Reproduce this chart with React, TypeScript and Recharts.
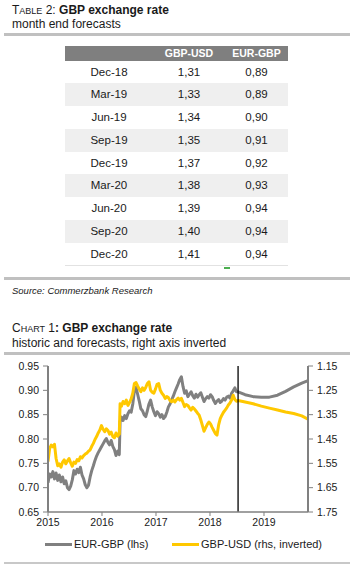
import React from 'react';
import { LineChart, Line, XAxis, YAxis, ReferenceLine } from 'recharts';

const FONT = '"Liberation Sans", Arial, Helvetica, sans-serif';

// ---- Table data ----
const tableDates = ['Dec-18', 'Mar-19', 'Jun-19', 'Sep-19', 'Dec-19', 'Mar-20', 'Jun-20', 'Sep-20', 'Dec-20'];
const tableGbpUsd = ['1,31', '1,33', '1,34', '1,35', '1,37', '1,38', '1,39', '1,40', '1,41'];
const tableEurGbp = ['0,89', '0,89', '0,90', '0,91', '0,92', '0,93', '0,94', '0,94', '0,94'];

// ---- Chart axes ----
const xTicks = [2015, 2016, 2017, 2018, 2019];
const leftTicks = [0.65, 0.7, 0.75, 0.8, 0.85, 0.9, 0.95];
const rightTicks = [1.15, 1.25, 1.35, 1.45, 1.55, 1.65, 1.75];
const forecastStart = 2018.52;

// ---- EUR-GBP (lhs) ----
const eurGbpTimes = [
  2015.0, 2015.03, 2015.06, 2015.09, 2015.12, 2015.15, 2015.18, 2015.21, 2015.24, 2015.27,
  2015.3, 2015.33, 2015.36, 2015.39, 2015.42, 2015.45, 2015.48, 2015.51, 2015.54, 2015.57,
  2015.6, 2015.63, 2015.66, 2015.69, 2015.72, 2015.75, 2015.78, 2015.81, 2015.84, 2015.87,
  2015.9, 2015.93, 2015.96, 2015.99, 2016.02, 2016.05, 2016.08, 2016.11, 2016.14, 2016.17,
  2016.2, 2016.23, 2016.26, 2016.29, 2016.32, 2016.335, 2016.36, 2016.39, 2016.42, 2016.45,
  2016.48, 2016.51, 2016.54, 2016.57, 2016.6, 2016.63, 2016.66, 2016.69, 2016.72, 2016.75,
  2016.78, 2016.81, 2016.84, 2016.87, 2016.9, 2016.93, 2016.96, 2016.99, 2017.02, 2017.05,
  2017.08, 2017.11, 2017.14, 2017.17, 2017.2, 2017.23, 2017.26, 2017.29, 2017.32, 2017.35,
  2017.38, 2017.41, 2017.44, 2017.47, 2017.5, 2017.53, 2017.56, 2017.59, 2017.62, 2017.65,
  2017.68, 2017.71, 2017.74, 2017.77, 2017.8, 2017.83, 2017.86, 2017.89, 2017.92, 2017.95,
  2017.98, 2018.01, 2018.04, 2018.07, 2018.1, 2018.13, 2018.16, 2018.19, 2018.22, 2018.25,
  2018.28, 2018.31, 2018.34, 2018.37, 2018.4, 2018.43, 2018.46, 2018.49, 2018.52,
  2018.65, 2018.8, 2018.95, 2019.1, 2019.25, 2019.4, 2019.55, 2019.7, 2019.815,
];
const eurGbpValues = [
  0.71, 0.728, 0.722, 0.733, 0.718, 0.73, 0.715, 0.726, 0.712, 0.722,
  0.708, 0.714, 0.7, 0.696, 0.703, 0.716, 0.735, 0.728, 0.738, 0.731,
  0.742, 0.726, 0.718, 0.706, 0.7, 0.705, 0.722, 0.735, 0.745, 0.756,
  0.765, 0.772, 0.778, 0.784, 0.79, 0.796, 0.801, 0.793, 0.788, 0.797,
  0.785, 0.778, 0.766, 0.775, 0.768, 0.836, 0.845, 0.838, 0.848, 0.842,
  0.852, 0.858, 0.855, 0.872, 0.9, 0.906, 0.892, 0.878, 0.862, 0.858,
  0.85, 0.846, 0.858, 0.872, 0.88, 0.866, 0.856, 0.848, 0.856, 0.852,
  0.845, 0.85, 0.842, 0.846, 0.855, 0.866, 0.872, 0.88, 0.888, 0.897,
  0.905, 0.913, 0.922, 0.928, 0.908, 0.894, 0.899, 0.887, 0.892, 0.897,
  0.889, 0.884, 0.892, 0.886, 0.891, 0.895, 0.886, 0.877, 0.883, 0.887,
  0.884, 0.891, 0.887, 0.879, 0.873, 0.878, 0.881, 0.875, 0.878, 0.883,
  0.88, 0.886, 0.888, 0.884, 0.894, 0.899, 0.905, 0.897, 0.897,
  0.891, 0.887, 0.886, 0.886, 0.89, 0.898, 0.907, 0.915, 0.92,
];

// ---- GBP-USD (rhs, inverted) ----
const gbpUsdTimes = [
  2015.0, 2015.03, 2015.06, 2015.09, 2015.12, 2015.15, 2015.18, 2015.21, 2015.24, 2015.27,
  2015.3, 2015.33, 2015.36, 2015.39, 2015.42, 2015.45, 2015.48, 2015.51, 2015.54, 2015.57,
  2015.6, 2015.63, 2015.66, 2015.69, 2015.72, 2015.75, 2015.78, 2015.81, 2015.84, 2015.87,
  2015.9, 2015.93, 2015.96, 2015.99, 2016.02, 2016.05, 2016.08, 2016.11, 2016.14, 2016.17,
  2016.2, 2016.23, 2016.26, 2016.29, 2016.32, 2016.335, 2016.36, 2016.39, 2016.42, 2016.45,
  2016.48, 2016.51, 2016.54, 2016.57, 2016.6, 2016.63, 2016.66, 2016.69, 2016.72, 2016.75,
  2016.78, 2016.81, 2016.84, 2016.87, 2016.9, 2016.93, 2016.96, 2016.99, 2017.02, 2017.05,
  2017.08, 2017.11, 2017.14, 2017.17, 2017.2, 2017.23, 2017.26, 2017.29, 2017.32, 2017.35,
  2017.38, 2017.41, 2017.44, 2017.47, 2017.5, 2017.53, 2017.56, 2017.59, 2017.62, 2017.65,
  2017.68, 2017.71, 2017.74, 2017.77, 2017.8, 2017.83, 2017.86, 2017.89, 2017.92, 2017.95,
  2017.98, 2018.01, 2018.04, 2018.07, 2018.1, 2018.13, 2018.16, 2018.19, 2018.22, 2018.25,
  2018.28, 2018.31, 2018.34, 2018.37, 2018.4, 2018.43, 2018.46, 2018.49, 2018.52,
  2018.65, 2018.8, 2018.95, 2019.1, 2019.25, 2019.4, 2019.55, 2019.7, 2019.815,
];
const gbpUsdValues = [
  1.543, 1.49, 1.475, 1.482, 1.472, 1.53, 1.56, 1.552, 1.566, 1.545,
  1.536, 1.552, 1.54, 1.53, 1.548, 1.562, 1.545, 1.55, 1.535, 1.54,
  1.523, 1.528, 1.518, 1.512, 1.508, 1.5, 1.495, 1.48, 1.468, 1.452,
  1.44, 1.425, 1.413, 1.395, 1.41, 1.42, 1.408, 1.415, 1.43, 1.422,
  1.44, 1.445, 1.425, 1.438, 1.43, 1.305, 1.315, 1.296, 1.305, 1.29,
  1.312, 1.3, 1.285, 1.262, 1.222, 1.218, 1.232, 1.245, 1.256, 1.24,
  1.25, 1.238, 1.222, 1.215, 1.25, 1.258, 1.262, 1.245, 1.225, 1.222,
  1.25, 1.262, 1.27, 1.283, 1.276, 1.28, 1.292, 1.297, 1.29, 1.298,
  1.288, 1.282, 1.29, 1.283, 1.3, 1.317, 1.308, 1.312, 1.322, 1.331,
  1.32, 1.326, 1.335, 1.344, 1.352, 1.372, 1.395, 1.418, 1.403, 1.39,
  1.38, 1.388, 1.402, 1.415, 1.428, 1.434, 1.392, 1.366, 1.352, 1.34,
  1.331, 1.322, 1.31, 1.302, 1.29, 1.27, 1.288, 1.295, 1.292,
  1.298, 1.305, 1.315, 1.323, 1.331, 1.339, 1.345, 1.355, 1.369,
];

const eurGbpData = eurGbpTimes.map((t, i) => ({ t, v: eurGbpValues[i] }));
const gbpUsdData = gbpUsdTimes.map((t, i) => ({ t, v: gbpUsdValues[i] }));

const GRAY = '#808080';
const YELLOW = '#FFC800';
const tickStyle = { fontSize: 10.5, fill: '#1a1a1a', fontFamily: FONT };

const Rule = ({ top, h = 3, color = '#c0c0c0' }: { top: number; h?: number; color?: string }) => (
  <div style={{ position: 'absolute', left: 4, width: 346, top, height: h, background: color }} />
);

export default function App() {
  const colW = [88, 72, 63];
  return (
    <div
      style={{
        position: 'absolute',
        left: 0,
        top: 0,
        width: 351,
        height: 564,
        background: '#fff',
        fontFamily: FONT,
        color: '#1a1a1a',
        overflow: 'hidden',
      }}
    >
      {/* Table title */}
      <div style={{ position: 'absolute', left: 12, top: 3, fontSize: 12, lineHeight: '14px', whiteSpace: 'nowrap' }}>
        T<span style={{ fontSize: 9 }}>ABLE</span> 2: <b>GBP exchange rate</b>
      </div>
      <div style={{ position: 'absolute', left: 12, top: 16.6, fontSize: 12, lineHeight: '14px', whiteSpace: 'nowrap' }}>
        month end forecasts
      </div>
      <Rule top={32.5} />

      {/* Table */}
      <div style={{ position: 'absolute', left: 65, top: 45.7, width: 223 }}>
        <div
          style={{
            display: 'flex',
            height: 15,
            background: '#7f7f7f',
            color: '#fff',
            fontWeight: 'bold',
            fontSize: 10.5,
            lineHeight: '15px',
          }}
        >
          <div style={{ width: colW[0], textAlign: 'center' }}></div>
          <div style={{ width: colW[1], textAlign: 'center' }}>GBP-USD</div>
          <div style={{ width: colW[2], textAlign: 'center' }}>EUR-GBP</div>
        </div>
        {tableDates.map((d, i) => (
          <div
            key={d}
            style={{
              display: 'flex',
              height: 22.75,
              lineHeight: '22.75px',
              fontSize: 11.5,
              background: i % 2 === 1 ? '#efefef' : '#fff',
            }}
          >
            <div style={{ width: colW[0], textAlign: 'center' }}>{d}</div>
            <div style={{ width: colW[1], textAlign: 'center' }}>{tableGbpUsd[i]}</div>
            <div style={{ width: colW[2], textAlign: 'center' }}>{tableEurGbp[i]}</div>
          </div>
        ))}
        <div style={{ height: 1, background: '#e2e2e2' }} />
      </div>
      <div style={{ position: 'absolute', left: 224, top: 267, width: 6, height: 1.5, background: '#4caf50' }} />
      <Rule top={277} />
      <div
        style={{
          position: 'absolute',
          left: 12,
          top: 284.6,
          fontSize: 9.5,
          lineHeight: '11px',
          fontStyle: 'italic',
          whiteSpace: 'nowrap',
        }}
      >
        Source: Commerzbank Research
      </div>

      {/* Chart title */}
      <div style={{ position: 'absolute', left: 12, top: 321.4, fontSize: 12, lineHeight: '14px', whiteSpace: 'nowrap' }}>
        C<span style={{ fontSize: 9 }}>HART</span> 1<b>: GBP exchange rate</b>
      </div>
      <div style={{ position: 'absolute', left: 12, top: 335.8, fontSize: 12, lineHeight: '14px', whiteSpace: 'nowrap' }}>
        historic and forecasts, right axis inverted
      </div>
      <Rule top={352} />

      {/* Chart */}
      <div style={{ position: 'absolute', left: 0, top: 355 }}>
        <LineChart width={351} height={175} margin={{ top: 11, right: 0, bottom: 0, left: 0 }}>
          <XAxis
            dataKey="t"
            type="number"
            domain={[2015, 2019.815]}
            ticks={xTicks}
            allowDataOverflow
            height={18}
            tick={tickStyle}
            tickSize={4}
            tickMargin={3}
            axisLine={{ stroke: GRAY, strokeWidth: 1.5 }}
            tickLine={{ stroke: GRAY }}
          />
          <YAxis
            yAxisId="left"
            orientation="left"
            width={48}
            domain={[0.65, 0.95]}
            ticks={leftTicks}
            allowDataOverflow
            tickFormatter={(v: number) => v.toFixed(2)}
            tick={tickStyle}
            tickSize={5}
            tickMargin={4}
            axisLine={{ stroke: GRAY, strokeWidth: 2 }}
            tickLine={{ stroke: GRAY }}
          />
          <YAxis
            yAxisId="right"
            orientation="right"
            width={43}
            domain={[1.15, 1.75]}
            reversed
            ticks={rightTicks}
            allowDataOverflow
            tickFormatter={(v: number) => v.toFixed(2)}
            tick={tickStyle}
            tickSize={5}
            tickMargin={4}
            axisLine={{ stroke: GRAY, strokeWidth: 2 }}
            tickLine={{ stroke: GRAY }}
          />
          <Line
            yAxisId="left"
            data={eurGbpData}
            dataKey="v"
            type="linear"
            stroke={GRAY}
            strokeWidth={3}
            dot={false}
            isAnimationActive={false}
            strokeLinejoin="round"
          />
          <Line
            yAxisId="right"
            data={gbpUsdData}
            dataKey="v"
            type="linear"
            stroke={YELLOW}
            strokeWidth={3}
            dot={false}
            isAnimationActive={false}
            strokeLinejoin="round"
          />
          <ReferenceLine yAxisId="left" x={forecastStart} stroke="#000" strokeWidth={1.3} />
        </LineChart>
      </div>

      {/* Legend */}
      <div style={{ position: 'absolute', left: 45, top: 543, width: 27, height: 2.5, background: GRAY }} />
      <div style={{ position: 'absolute', left: 74, top: 538, fontSize: 11, lineHeight: '13px', whiteSpace: 'nowrap' }}>
        EUR-GBP (lhs)
      </div>
      <div style={{ position: 'absolute', left: 172, top: 543, width: 27, height: 2.5, background: YELLOW }} />
      <div style={{ position: 'absolute', left: 201, top: 538, fontSize: 11, lineHeight: '13px', whiteSpace: 'nowrap' }}>
        GBP-USD (rhs, inverted)
      </div>
      <Rule top={561.5} h={2} color="#c8c8c8" />
    </div>
  );
}
